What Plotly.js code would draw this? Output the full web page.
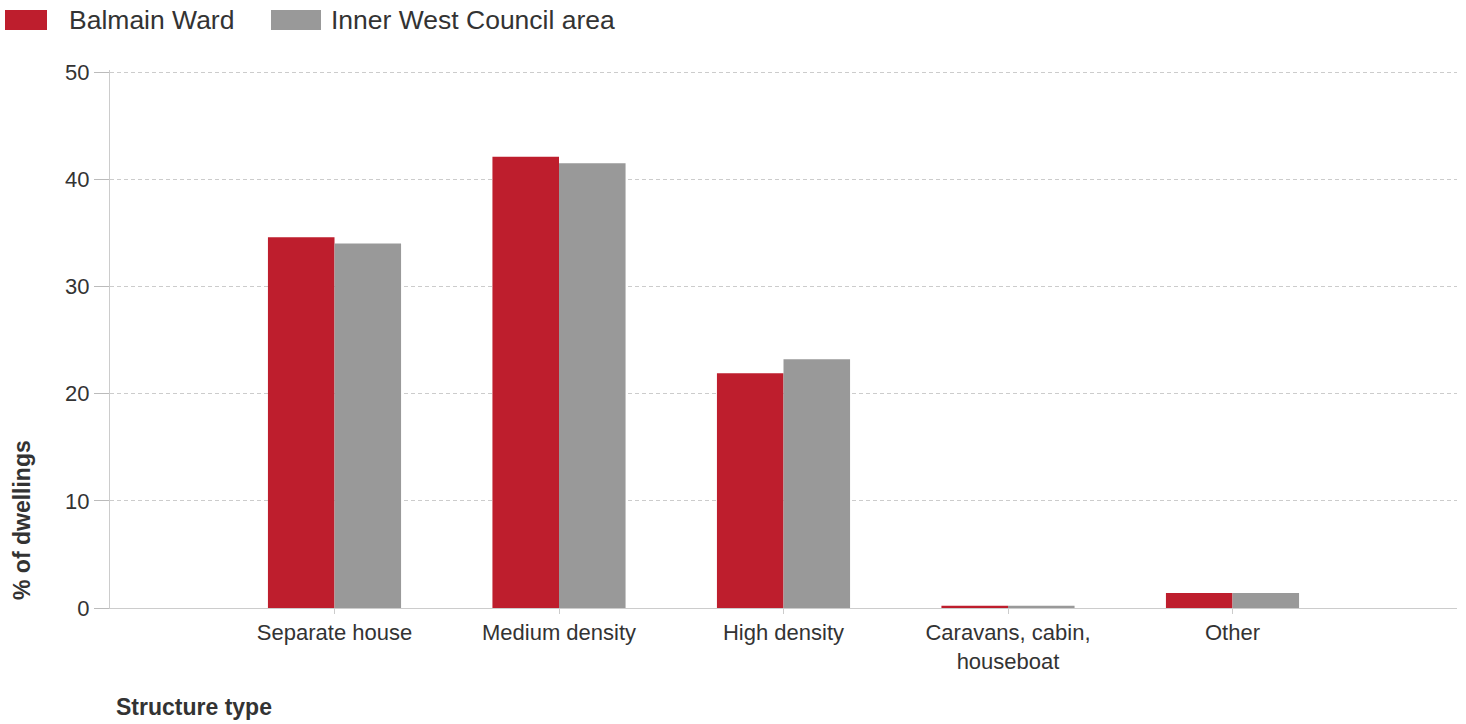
<!DOCTYPE html>
<html>
<head>
<meta charset="utf-8">
<script src="https://cdn.plot.ly/plotly-3.0.1.min.js"></script>
<style>
  html, body { margin: 0; padding: 0; background: #ffffff; }
  #chart { width: 1466px; height: 724px; }
</style>
</head>
<body>
<div id="chart"></div>
<script>
// ---- data ----
const categories = ["Separate house", "Medium density", "High density", "Caravans, cabin,<br>houseboat", "Other"];
const seriesNames = ["Balmain Ward", "Inner West Council area"];
const balmainWard = [34.6, 42.1, 21.9, 0.2, 1.4];
const innerWest = [34.0, 41.5, 23.2, 0.2, 1.4];
const seriesColors = ["#be1e2d", "#999999"];
const yTickVals = [0, 10, 20, 30, 40, 50];
const yTitle = "% of dwellings";
const xTitle = "Structure type";

const fontFamily = "'Liberation Sans', Arial, sans-serif";
const textColor = "#333333";

const traces = [
  { type: "bar", name: seriesNames[0], x: categories, y: balmainWard,
    marker: { color: seriesColors[0] }, showlegend: false, hoverinfo: "x+y+name" },
  { type: "bar", name: seriesNames[1], x: categories, y: innerWest,
    marker: { color: seriesColors[1] }, showlegend: false, hoverinfo: "x+y+name" }
];

// custom legend (wide swatches like the original)
const legendShapes = [];
const legendAnn = [];
const legendItems = [
  { sw0: -105, sw1: -63, tx: -43 },
  { sw0: 161, sw1: 211, tx: 219 }
];
legendItems.forEach((it, i) => {
  legendShapes.push({
    type: "rect", xref: "paper", yref: "paper", xsizemode: "pixel", ysizemode: "pixel",
    xanchor: 0, yanchor: 1, x0: it.sw0, x1: it.sw1, y0: 40, y1: 60,
    fillcolor: seriesColors[i], line: { width: 0 }
  });
  legendAnn.push({
    xref: "paper", yref: "paper", x: 0, y: 1, xshift: it.tx, yshift: 50,
    xanchor: "left", yanchor: "middle", showarrow: false, text: seriesNames[i],
    font: { family: fontFamily, size: 26.5, color: textColor }
  });
});

const layout = {
  width: 1466, height: 724,
  paper_bgcolor: "#ffffff", plot_bgcolor: "#ffffff",
  margin: { l: 110, r: 9, t: 70, b: 116, pad: 0 },
  barmode: "group", bargap: 0.407, bargroupgap: 0,
  font: { family: fontFamily, size: 22, color: textColor },
  showlegend: false,
  xaxis: {
    type: "category", range: [-1, 5],
    showgrid: false, zeroline: false,
    showline: true, linecolor: "#cccccc", linewidth: 1,
    ticks: "outside", ticklen: 5, tickcolor: "#cccccc",
    tickfont: { family: fontFamily, size: 22, color: textColor },
    automargin: false
  },
  yaxis: {
    range: [0, 50.2], tickvals: yTickVals,
    showgrid: true, gridcolor: "#cccccc", griddash: "4px,3px", gridwidth: 1,
    zeroline: true, zerolinecolor: "#cccccc", zerolinewidth: 1,
    showline: true, linecolor: "#cccccc", linewidth: 1,
    ticks: "outside", ticklen: 15, tickcolor: "#bbbbbb", tickwidth: 1,
    tickfont: { family: fontFamily, size: 22, color: textColor },
    automargin: false
  },
  shapes: legendShapes,
  annotations: legendAnn.concat([
    { xref: "paper", yref: "paper", x: 0, y: 0, xshift: 4, yshift: -99,
      xanchor: "left", yanchor: "middle", showarrow: false,
      text: "<b>" + xTitle + "</b>", font: { family: fontFamily, size: 23, color: textColor } },
    { xref: "paper", yref: "paper", x: 0, y: 0, xshift: -88, yshift: 88,
      xanchor: "center", yanchor: "middle", showarrow: false, textangle: -90,
      text: "<b>" + yTitle + "</b>", font: { family: fontFamily, size: 23, color: textColor } }
  ])
};

Plotly.newPlot("chart", traces, layout, { displayModeBar: false, responsive: false });
</script>
</body>
</html>
